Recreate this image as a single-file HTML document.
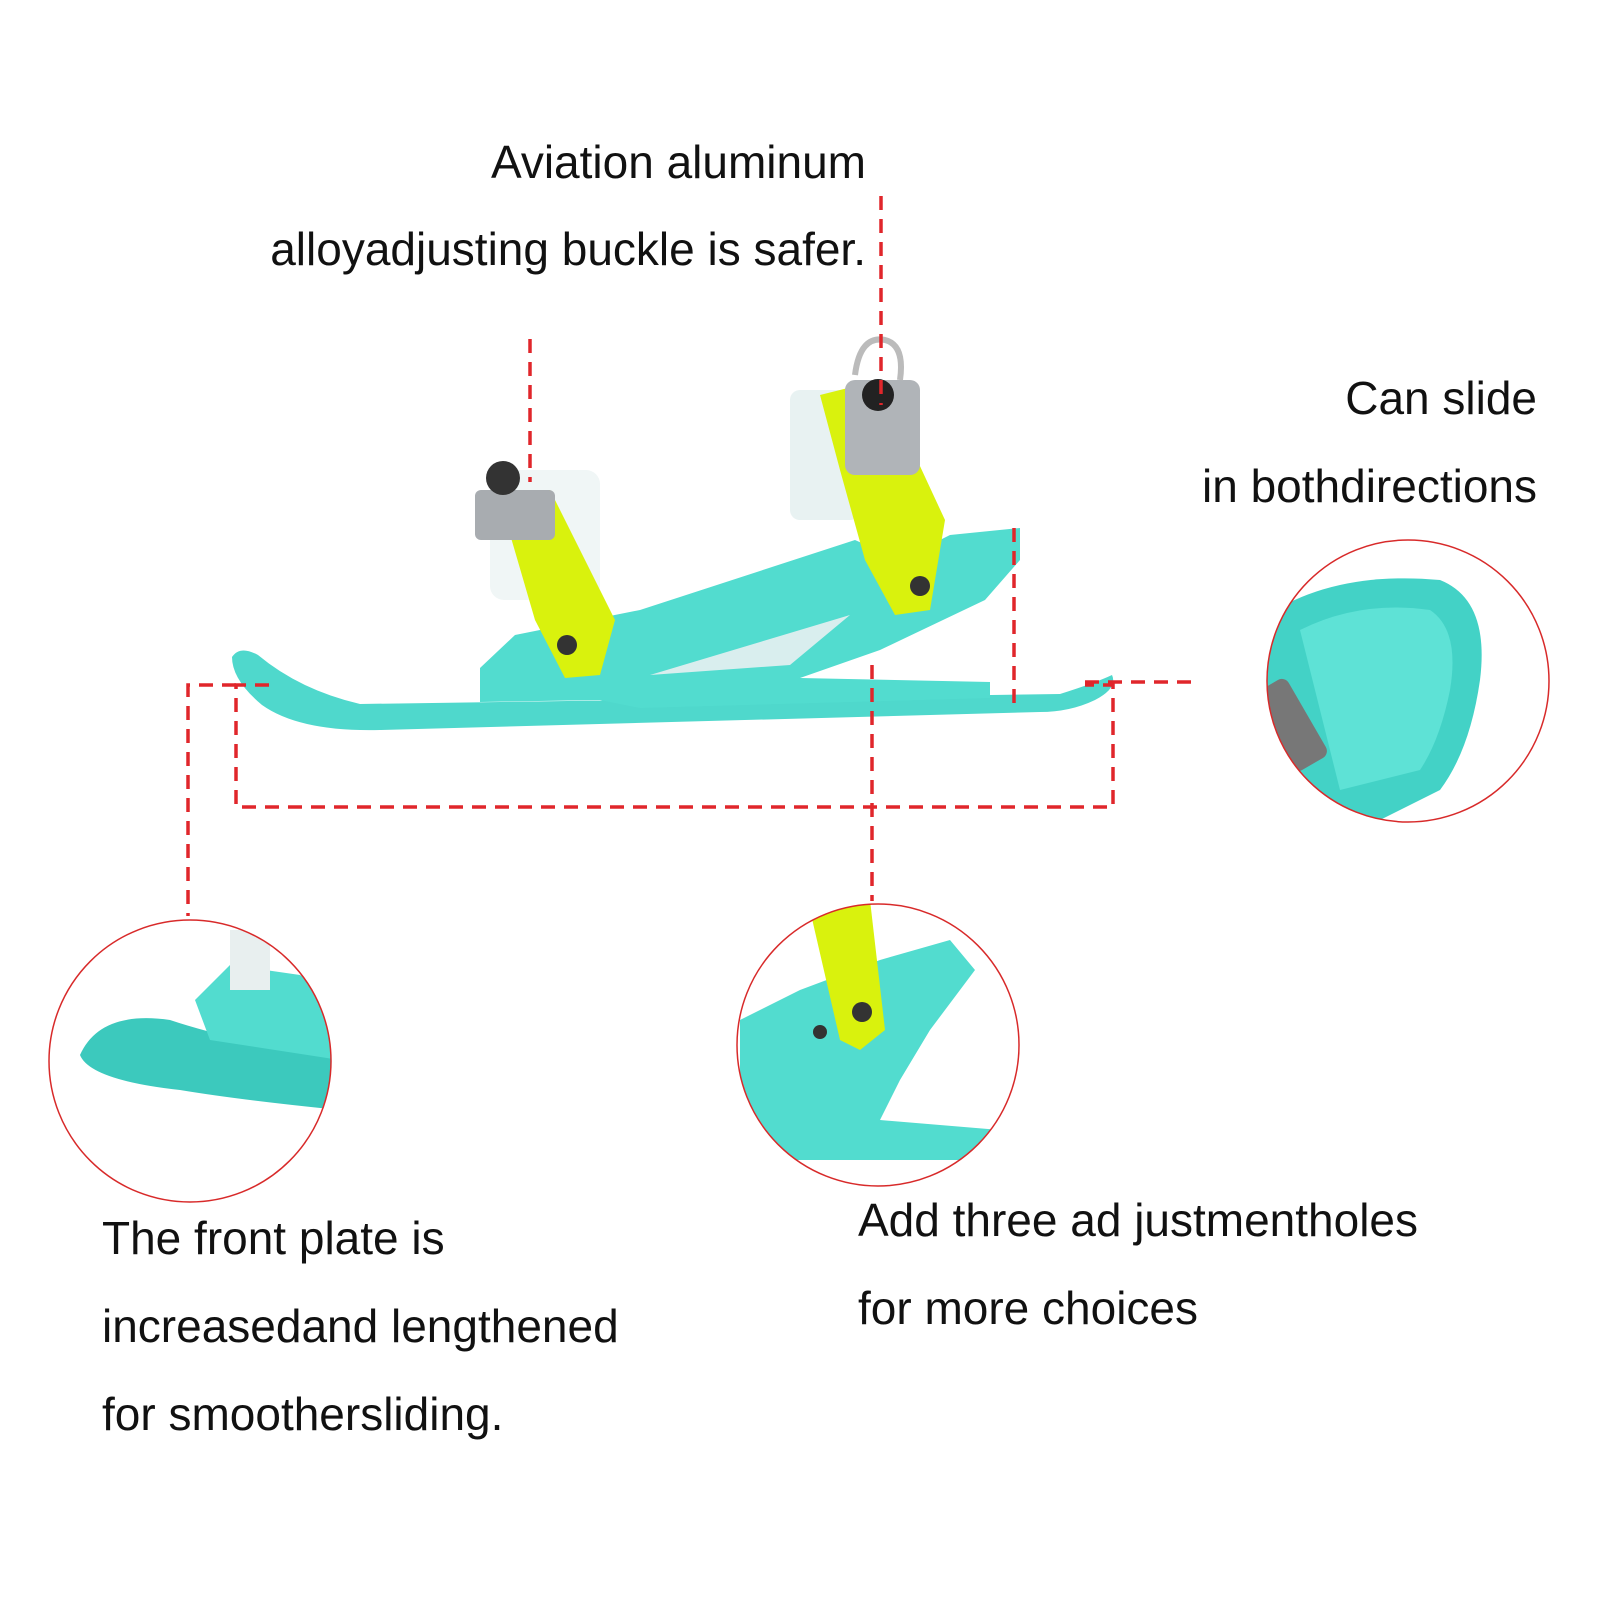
<!DOCTYPE html>
<html><head><meta charset="utf-8"><style>
html,body{margin:0;padding:0;background:#fff}
svg{display:block}
text{font-family:"Liberation Sans",sans-serif;font-size:46px;fill:#111}
</style></head><body>
<svg width="1600" height="1600" viewBox="0 0 1600 1600" xmlns="http://www.w3.org/2000/svg">
<g>
<path d="M232,657 Q240,645 258,655 Q300,690 360,704 L1060,694 Q1095,683 1112,675 Q1118,688 1095,700 Q1070,712 1040,712 L380,730 Q300,732 262,705 Q232,680 232,657Z" fill="#4fd8cc"/>
<path d="M480,668 L515,635 L640,610 L855,540 L900,560 L950,535 L1020,528 L1020,560 L985,600 L880,650 L800,678 L990,682 L990,698 L640,708 L600,700 L480,702Z" fill="#52dccf"/>
<path d="M650,675 L850,615 L790,665 Z" fill="#d9eeee"/>
<rect x="790" y="390" width="70" height="130" rx="10" fill="#e8f2f2"/>
<path d="M820,395 L880,380 L945,520 L930,610 L895,615 L865,560 L840,470Z" fill="#d9f20d"/>
<rect x="845" y="380" width="75" height="95" rx="10" fill="#b0b4b8"/>
<circle cx="878" cy="395" r="16" fill="#222"/>
<path d="M855,375 Q860,335 885,340 Q905,345 900,380" fill="none" stroke="#bbb" stroke-width="6"/>
<circle cx="920" cy="586" r="10" fill="#333"/>
<rect x="490" y="470" width="110" height="130" rx="14" fill="#f0f6f6"/>
<path d="M500,500 L550,490 L615,620 L600,675 L565,678 L535,620Z" fill="#d9f20d"/>
<rect x="475" y="490" width="80" height="50" rx="6" fill="#a8acb0"/>
<circle cx="503" cy="478" r="17" fill="#333"/>
<circle cx="567" cy="645" r="10" fill="#333"/>
</g>
<g stroke="#e0262b" stroke-width="3.5" stroke-dasharray="14,9" fill="none">
<line x1="881" y1="196" x2="881" y2="405"/>
<line x1="530" y1="339" x2="530" y2="482"/>
<line x1="1085" y1="682" x2="1198" y2="682"/>
<polyline points="269,685 236,685 236,807 1113,807 1113,685 1085,685"/>
<polyline points="236,685 188,685 188,916"/>
<line x1="872" y1="665" x2="872" y2="901"/>
<line x1="1014" y1="528" x2="1014" y2="706"/>
</g>
<defs>
<clipPath id="c1"><circle cx="1408" cy="681" r="141"/></clipPath>
<clipPath id="c2"><circle cx="190" cy="1061" r="141"/></clipPath>
<clipPath id="c3"><circle cx="878" cy="1045" r="141"/></clipPath>
</defs>
<g clip-path="url(#c1)">
<path d="M1260,620 Q1330,570 1440,580 Q1490,600 1480,680 Q1470,750 1440,790 L1360,830 L1320,820 L1270,760 Z" fill="#43d2c6"/>
<path d="M1300,630 Q1360,600 1430,610 Q1460,630 1450,690 Q1440,740 1420,770 L1340,790 Z" fill="#5ee2d6"/>
<rect x="1270" y="680" width="40" height="90" rx="8" fill="#777" transform="rotate(-30 1290 725)"/>
</g>
<g clip-path="url(#c2)">
<path d="M80,1055 Q100,1010 170,1020 Q230,1040 340,1060 L340,1110 Q240,1100 180,1090 Q90,1080 80,1055Z" fill="#3cc9bd"/>
<path d="M195,1000 L230,965 L300,975 L340,1000 L340,1060 L210,1040Z" fill="#52dccf"/>
<rect x="230" y="930" width="40" height="60" fill="#e8efef"/>
</g>
<g clip-path="url(#c3)">
<path d="M740,1020 L800,990 L880,960 L950,940 L975,970 L930,1030 L900,1080 L880,1120 L1000,1130 L1000,1160 L740,1160Z" fill="#52dccf"/>
<path d="M810,910 L870,900 L885,1030 L860,1050 L840,1040Z" fill="#d9f20d"/>
<circle cx="862" cy="1012" r="10" fill="#333"/>
<circle cx="820" cy="1032" r="7" fill="#333"/>
</g>
<g fill="none" stroke="#d82a2a" stroke-width="1.5">
<circle cx="1408" cy="681" r="141"/>
<circle cx="190" cy="1061" r="141"/>
<circle cx="878" cy="1045" r="141"/>
</g>
<text x="866" y="178" text-anchor="end">Aviation aluminum</text>
<text x="866" y="265" text-anchor="end">alloyadjusting buckle is safer.</text>
<text x="1537" y="414" text-anchor="end">Can slide</text>
<text x="1537" y="502" text-anchor="end">in bothdirections</text>
<text x="102" y="1254">The front plate is</text>
<text x="102" y="1342">increasedand lengthened</text>
<text x="102" y="1430">for smoothersliding.</text>
<text x="858" y="1236">Add three ad justmentholes</text>
<text x="858" y="1324">for more choices</text>
</svg>
</body></html>
